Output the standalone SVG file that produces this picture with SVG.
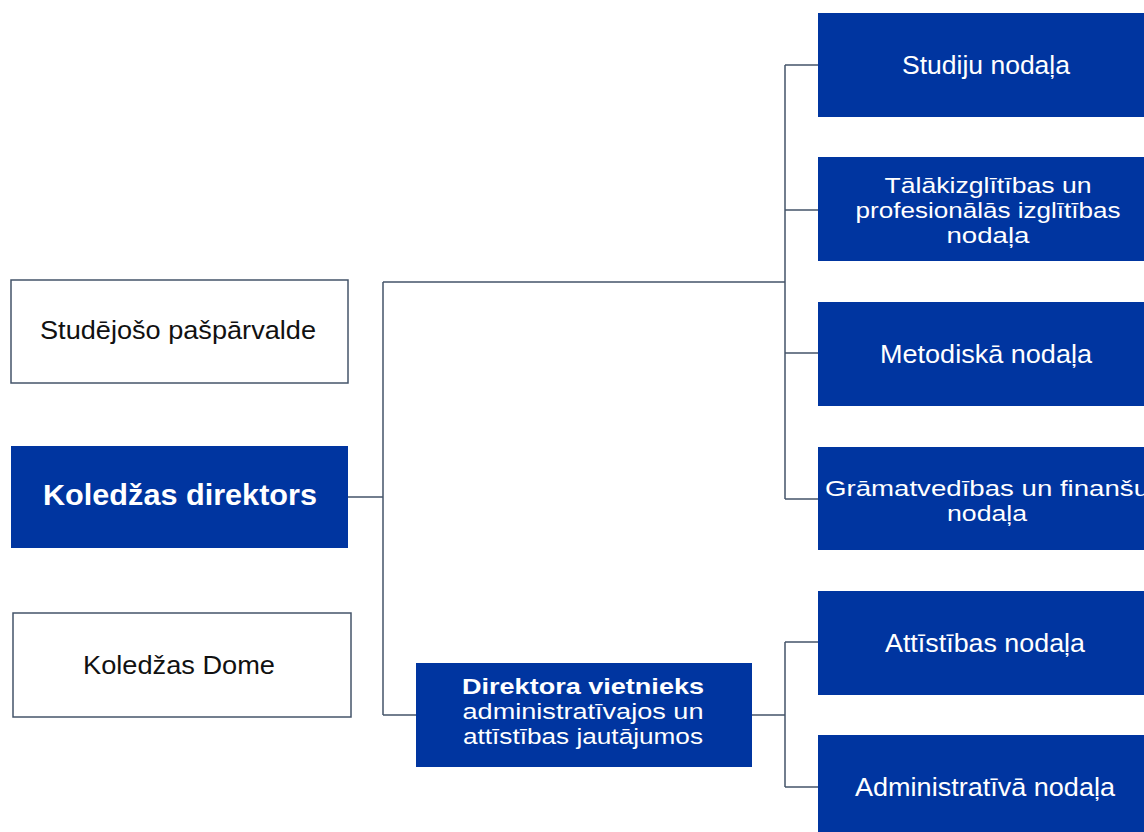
<svg xmlns="http://www.w3.org/2000/svg" width="1144" height="832" viewBox="0 0 1144 832">
<style>
.blue{fill:#0035A0;}
.white{fill:#ffffff;stroke:#44546A;stroke-width:1.5;}
.conn{fill:none;stroke:#44546A;stroke-width:1.5;}
text{font-family:"Liberation Sans",Arial,sans-serif;text-anchor:middle;}
.wt{fill:#ffffff;}
.bk{fill:#111111;}
.r26{font-size:26px;}
.r22{font-size:22px;}
.b30{font-size:30px;font-weight:bold;}
.b22{font-size:22px;font-weight:bold;}
</style>
<rect width="1144" height="832" fill="#ffffff"/>
<g id="connectors">
<path class="conn" d="M348,497 H383 M383,282 V715 M383,282 H785 M383,715 H416"/>
<path class="conn" d="M785,65 V499 M785,65 H818 M785,210 H818 M785,353 H818 M785,499 H818"/>
<path class="conn" d="M752,715 H785 M785,642 V787 M785,642 H818 M785,787 H818"/>
</g>
<g id="studejoso">
<rect class="white" x="11" y="280" width="337" height="103"/>
<text class="bk r26" x="178" y="339" textLength="276" lengthAdjust="spacingAndGlyphs">Studējošo  pašpārvalde</text>
</g>
<g id="direktors">
<rect class="blue" x="11" y="446" width="337" height="102"/>
<text class="wt b30" x="180" y="505" textLength="274" lengthAdjust="spacingAndGlyphs">Koledžas direktors</text>
</g>
<g id="dome">
<rect class="white" x="13" y="613" width="338" height="104"/>
<text class="bk r26" x="179" y="674" textLength="192" lengthAdjust="spacingAndGlyphs">Koledžas  Dome</text>
</g>
<g id="vietnieks">
<rect class="blue" x="416" y="663" width="336" height="104"/>
<text class="wt b22" x="583" y="694" textLength="242" lengthAdjust="spacingAndGlyphs">Direktora  vietnieks</text>
<text class="wt r22" x="583" y="719" textLength="241" lengthAdjust="spacingAndGlyphs">administratīvajos un</text>
<text class="wt r22" x="583" y="744" textLength="240" lengthAdjust="spacingAndGlyphs">attīstības jautājumos</text>
</g>
<g id="studiju">
<rect class="blue" x="818" y="13" width="338" height="104"/>
<text class="wt r26" x="986" y="74" textLength="168" lengthAdjust="spacingAndGlyphs">Studiju  nodaļa</text>
</g>
<g id="talakizglitibas">
<rect class="blue" x="818" y="157" width="338" height="104"/>
<text class="wt r22" x="988" y="193" textLength="207" lengthAdjust="spacingAndGlyphs">Tālākizglītības  un</text>
<text class="wt r22" x="988" y="218" textLength="265" lengthAdjust="spacingAndGlyphs">profesionālās izglītības</text>
<text class="wt r22" x="988" y="243" textLength="83" lengthAdjust="spacingAndGlyphs">nodaļa</text>
</g>
<g id="metodiska">
<rect class="blue" x="818" y="302" width="338" height="104"/>
<text class="wt r26" x="986" y="363" textLength="212" lengthAdjust="spacingAndGlyphs">Metodiskā  nodaļa</text>
</g>
<g id="gramatvedibas">
<rect class="blue" x="818" y="447" width="338" height="103"/>
<text class="wt r22" x="987" y="496" textLength="324" lengthAdjust="spacingAndGlyphs">Grāmatvedības  un  finanšu</text>
<text class="wt r22" x="987" y="521" textLength="80" lengthAdjust="spacingAndGlyphs">nodaļa</text>
</g>
<g id="attistibas">
<rect class="blue" x="818" y="591" width="338" height="104"/>
<text class="wt r26" x="985" y="652" textLength="200" lengthAdjust="spacingAndGlyphs">Attīstības nodaļa</text>
</g>
<g id="administrativa">
<rect class="blue" x="818" y="735" width="338" height="104"/>
<text class="wt r26" x="985" y="796" textLength="260" lengthAdjust="spacingAndGlyphs">Administratīvā  nodaļa</text>
</g>
</svg>
